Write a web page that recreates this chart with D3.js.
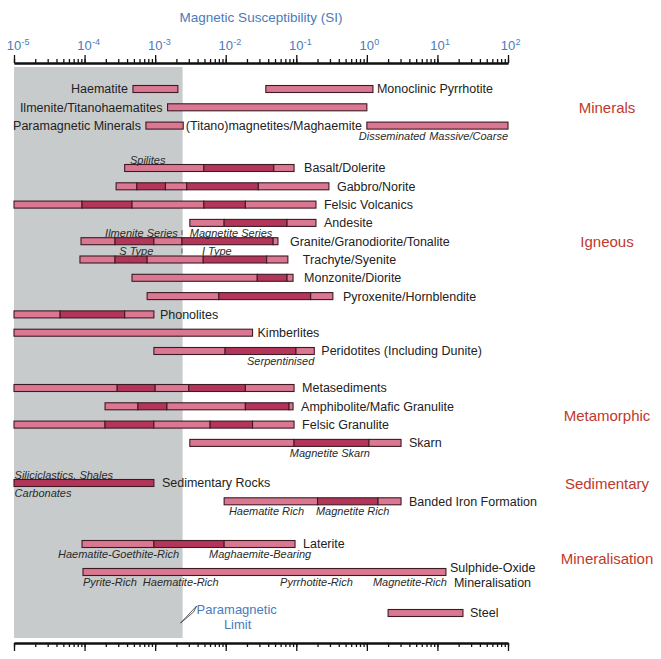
<!DOCTYPE html>
<html>
<head>
<meta charset="utf-8">
<script src="https://cdnjs.cloudflare.com/ajax/libs/d3/7.8.5/d3.min.js"></script>
<style>
  body { margin: 0; background: #fff; }
  text { font-family: "Liberation Sans", Arial, Helvetica, sans-serif; }
</style>
</head>
<body>
<script>
// rows, top to bottom
var rows = ["Haematite", "Ilmenite/Titanohaematites", "Paramagnetic Minerals",
  "Basalt/Dolerite", "Gabbro/Norite", "Felsic Volcanics", "Andesite",
  "Granite/Granodiorite/Tonalite", "Trachyte/Syenite", "Monzonite/Diorite",
  "Pyroxenite/Hornblendite", "Phonolites", "Kimberlites", "Peridotites (Including Dunite)",
  "Metasediments", "Amphibolite/Mafic Granulite", "Felsic Granulite", "Skarn",
  "Sedimentary Rocks", "Banded Iron Formation",
  "Laterite", "Sulphide-Oxide Mineralisation", "Steel"];

// susceptibility ranges (SI); breaks split the bar, L = light, D = dark
var bars = [
  {row: "Haematite", label: "Haematite", side: "left", breaks: [4.85e-4, 2.1e-3], shades: "L"},
  {row: "Haematite", label: "Monoclinic Pyrrhotite", side: "right", breaks: [3.7e-2, 1.22], shades: "L"},
  {row: "Ilmenite/Titanohaematites", label: "Ilmenite/Titanohaematites", side: "left", breaks: [1.5e-3, 1.0], shades: "L"},
  {row: "Paramagnetic Minerals", label: "Paramagnetic Minerals", side: "left", breaks: [7.4e-4, 2.5e-3], shades: "L"},
  {row: "Paramagnetic Minerals", label: "(Titano)magnetites/Maghaemite", side: "left", breaks: [1.0, 100], shades: "L"},
  {row: "Basalt/Dolerite", label: "Basalt/Dolerite", side: "right", breaks: [3.7e-4, 4.9e-3, 0.048, 0.093], shades: "LDL"},
  {row: "Gabbro/Norite", label: "Gabbro/Norite", side: "right", breaks: [2.8e-4, 5.5e-4, 1.4e-3, 2.8e-3, 0.029, 0.29], shades: "LDLDL"},
  {row: "Felsic Volcanics", label: "Felsic Volcanics", side: "right", breaks: [1e-5, 9.2e-5, 4.7e-4, 4.9e-3, 0.019, 0.19], shades: "LDLDL"},
  {row: "Andesite", label: "Andesite", side: "right", breaks: [3.1e-3, 9.5e-3, 0.074, 0.19], shades: "LDL"},
  {row: "Granite/Granodiorite/Tonalite", label: "Granite/Granodiorite/Tonalite", side: "right", breaks: [8.9e-5, 2.7e-4, 9.6e-4, 2.4e-3, 0.047, 0.055], shades: "LDLDL"},
  {row: "Trachyte/Syenite", label: "Trachyte/Syenite", side: "right", breaks: [8.6e-5, 2.7e-4, 7.7e-4, 4.8e-3, 0.038, 0.076], shades: "LDLDL"},
  {row: "Monzonite/Diorite", label: "Monzonite/Diorite", side: "right", breaks: [4.7e-4, 0.028, 0.074, 0.09], shades: "LDL"},
  {row: "Pyroxenite/Hornblendite", label: "Pyroxenite/Hornblendite", side: "right", breaks: [7.7e-4, 8e-3, 0.16, 0.33], shades: "LDL"},
  {row: "Phonolites", label: "Phonolites", side: "right", breaks: [1e-5, 4.5e-5, 3.7e-4, 9.6e-4], shades: "LDL"},
  {row: "Kimberlites", label: "Kimberlites", side: "right", breaks: [1e-5, 0.024], shades: "L"},
  {row: "Peridotites (Including Dunite)", label: "Peridotites (Including Dunite)", side: "right", breaks: [9.6e-4, 9.8e-3, 0.099, 0.18], shades: "LDL"},
  {row: "Metasediments", label: "Metasediments", side: "right", breaks: [1e-5, 2.9e-4, 1e-3, 3e-3, 0.019, 0.093], shades: "LDLDL"},
  {row: "Amphibolite/Mafic Granulite", label: "Amphibolite/Mafic Granulite", side: "right", breaks: [1.95e-4, 5.7e-4, 1.47e-3, 0.019, 0.079, 0.09], shades: "LDLDL"},
  {row: "Felsic Granulite", label: "Felsic Granulite", side: "right", breaks: [1e-5, 1.95e-4, 9.6e-4, 6e-3, 0.024, 0.093], shades: "LDLDL"},
  {row: "Skarn", label: "Skarn", side: "right", breaks: [3.1e-3, 0.093, 1.07, 3.05], shades: "LDL"},
  {row: "Sedimentary Rocks", label: "Sedimentary Rocks", side: "right", breaks: [1e-5, 9.6e-4], shades: "D"},
  {row: "Banded Iron Formation", label: "Banded Iron Formation", side: "right", breaks: [9.5e-3, 0.2, 1.44, 3.05], shades: "LDL"},
  {row: "Laterite", label: "Laterite", side: "right", breaks: [9.2e-5, 9.6e-4, 9.5e-3, 0.096], shades: "LDL"},
  {row: "Sulphide-Oxide Mineralisation", label: "Sulphide-Oxide\nMineralisation", side: "right", breaks: [9.5e-5, 13.2], shades: "L"},
  {row: "Steel", label: "Steel", side: "right", breaks: [2.0, 23], shades: "L"}
];

// italic notes on the bars
var notes = [
  {row: "Paramagnetic Minerals", text: "Disseminated", at: 0.77, pos: "below", anchor: "start"},
  {row: "Paramagnetic Minerals", text: "Massive/Coarse", at: 100, pos: "below", anchor: "end"},
  {row: "Basalt/Dolerite", text: "Spilites", at: 4.4e-4, pos: "above", anchor: "start"},
  {row: "Granite/Granodiorite/Tonalite", text: "Ilmenite Series", at: 2.1e-3, pos: "above", anchor: "end"},
  {row: "Granite/Granodiorite/Tonalite", text: "Magnetite Series", at: 3.1e-3, pos: "above", anchor: "start"},
  {row: "Trachyte/Syenite", text: "S Type", at: 3.1e-4, pos: "above", anchor: "start"},
  {row: "Trachyte/Syenite", text: "I Type", at: 4.6e-3, pos: "above", anchor: "start"},
  {row: "Peridotites (Including Dunite)", text: "Serpentinised", at: 0.18, pos: "below", anchor: "end"},
  {row: "Skarn", text: "Magnetite Skarn", at: 0.081, pos: "below", anchor: "start"},
  {row: "Sedimentary Rocks", text: "Siliciclastics, Shales", at: 1.02e-5, pos: "above", anchor: "start"},
  {row: "Sedimentary Rocks", text: "Carbonates", at: 1.02e-5, pos: "below", anchor: "start"},
  {row: "Banded Iron Formation", text: "Haematite Rich", at: 0.0111, pos: "below", anchor: "start"},
  {row: "Banded Iron Formation", text: "Magnetite Rich", at: 0.19, pos: "below", anchor: "start"},
  {row: "Laterite", text: "Haematite-Goethite-Rich", at: 4.2e-5, pos: "below", anchor: "start"},
  {row: "Laterite", text: "Maghaemite-Bearing", at: 5.8e-3, pos: "below", anchor: "start"},
  {row: "Sulphide-Oxide Mineralisation", text: "Pyrite-Rich", at: 9.5e-5, pos: "below", anchor: "start"},
  {row: "Sulphide-Oxide Mineralisation", text: "Haematite-Rich", at: 6.7e-4, pos: "below", anchor: "start"},
  {row: "Sulphide-Oxide Mineralisation", text: "Pyrrhotite-Rich", at: 0.059, pos: "below", anchor: "start"},
  {row: "Sulphide-Oxide Mineralisation", text: "Magnetite-Rich", at: 1.22, pos: "below", anchor: "start"}
];

// series splits marked above granite and trachyte bars
var splitMarks = [{row: "Granite/Granodiorite/Tonalite", at: 2.4e-3}, {row: "Trachyte/Syenite", at: 2.4e-3}];

var groups = [
  {name: "Minerals", rows: ["Ilmenite/Titanohaematites"]},
  {name: "Igneous", rows: ["Granite/Granodiorite/Tonalite"]},
  {name: "Metamorphic", rows: ["Amphibolite/Mafic Granulite", "Felsic Granulite"]},
  {name: "Sedimentary", rows: ["Sedimentary Rocks"]},
  {name: "Mineralisation", rows: ["Laterite", "Sulphide-Oxide Mineralisation"]}
];

var paraLimit = 2.45e-3;
var decades = [1e-5, 1e-4, 1e-3, 1e-2, 1e-1, 1, 10, 100];
var exponents = ["-5", "-4", "-3", "-2", "-1", "0", "1", "2"];

var svgWidth = 661, svgHeight = 659;
var light = "#d97890", dark = "#b3365a", edge = "#3e1a26";
var blue = "#4a7bbb", red = "#c0392b";
var barH = 7;

var svg = d3.select("body").append("svg")
  .attr("width", svgWidth)
  .attr("height", svgHeight);

var x = d3.scaleLog().domain([1e-5, 100]).range([14, 508]);

// row positions with gaps between the rock groups
var rowStep = 18.3;
var extraGap = {"Basalt/Dolerite": 24.1, "Metasediments": 18.7, "Sedimentary Rocks": 21.8,
  "Laterite": 24.4, "Sulphide-Oxide Mineralisation": 9.7, "Steel": 22.7};
var acc = 89 - rowStep, ys = [];
rows.forEach(function(r) {
  acc += rowStep + (extraGap[r] || 0);
  ys.push(acc);
});
var y = d3.scaleOrdinal().domain(rows).range(ys);

var axisTop = 63, axisBottom = 643;

// paramagnetic zone
svg.append("rect")
  .attr("x", x(1e-5))
  .attr("y", 67)
  .attr("width", x(paraLimit) - x(1e-5))
  .attr("height", 638 - 67)
  .attr("fill", "#c8cbcc");

// axes
function drawAxis(axisFn, yPos) {
  var g1 = svg.append("g").attr("transform", "translate(0," + yPos + ")")
    .call(axisFn(x).tickValues(x.ticks()).tickSize(4).tickSizeOuter(0).tickFormat(""));
  var g2 = svg.append("g").attr("transform", "translate(0," + yPos + ")")
    .call(axisFn(x).tickValues(decades).tickSize(8).tickSizeOuter(0).tickFormat(""));
  [g1, g2].forEach(function(g) {
    g.select(".domain").attr("stroke", "#111").attr("stroke-width", 2);
    g.selectAll(".tick line").attr("stroke", "#111").attr("stroke-width", 1.3);
  });
}
drawAxis(d3.axisTop, axisTop);
drawAxis(d3.axisBottom, axisBottom);

// tick labels 10^n
var lab = svg.append("g").selectAll("g").data(decades).enter().append("g");
lab.append("text")
  .attr("x", function(d) { return x(d); })
  .attr("y", 50)
  .attr("text-anchor", "middle")
  .attr("font-size", "13px")
  .attr("fill", blue)
  .text("10");
lab.append("text")
  .attr("x", function(d) { return x(d) + 7.5; })
  .attr("y", 44.5)
  .attr("font-size", "9px")
  .attr("fill", blue)
  .text(function(d, i) { return exponents[i]; });

svg.append("text")
  .attr("x", (x(1e-5) + x(100)) / 2)
  .attr("y", 22)
  .attr("text-anchor", "middle")
  .attr("font-size", "13.5px")
  .attr("fill", blue)
  .text("Magnetic Susceptibility (SI)");

// bars
var labelGap = {"Monoclinic Pyrrhotite": 4, "Basalt/Dolerite": 10, "Granite/Granodiorite/Tonalite": 12,
  "Trachyte/Syenite": 15, "Monzonite/Diorite": 11, "Pyroxenite/Hornblendite": 10,
  "Kimberlites": 5, "Phonolites": 6, "Peridotites (Including Dunite)": 7,
  "Sulphide-Oxide\nMineralisation": 4, "Steel": 7};

bars.forEach(function(b) {
  var segs = d3.pairs(b.breaks).map(function(p, i) {
    return {x0: p[0], x1: p[1], shade: b.shades[i]};
  });
  var yc = y(b.row);
  svg.append("g").selectAll("rect").data(segs).enter().append("rect")
    .attr("x", function(d) { return x(d.x0); })
    .attr("width", function(d) { return x(d.x1) - x(d.x0); })
    .attr("y", yc - barH / 2)
    .attr("height", barH)
    .attr("fill", function(d) { return d.shade === "D" ? dark : light; })
    .attr("stroke", edge)
    .attr("stroke-width", 1.1);

  var lines = b.label.split("\n");
  var t = svg.append("text")
    .attr("font-size", "12.5px")
    .attr("fill", "#222");
  if (b.side === "left") {
    t.attr("x", x(b.breaks[0]) - 5).attr("text-anchor", "end");
  } else {
    t.attr("x", x(b.breaks[b.breaks.length - 1]) + (labelGap[b.label] || 8));
  }
  var tx = +t.attr("x");
  if (lines.length === 1) {
    t.attr("y", yc + 4.4).text(b.label);
  } else {
    t.attr("y", yc + 0.4);
    t.selectAll("tspan").data(lines).enter().append("tspan")
      .attr("x", function(d, i) { return tx + i * 4; })
      .attr("dy", function(d, i) { return i === 0 ? 0 : 15; })
      .text(function(d) { return d; });
  }
});

// italic notes
svg.append("g").selectAll("text").data(notes).enter().append("text")
  .attr("x", function(d) { return x(d.at); })
  .attr("y", function(d) { return d.pos === "above" ? y(d.row) - 4.5 : y(d.row) + 14; })
  .attr("text-anchor", function(d) { return d.anchor; })
  .attr("font-size", "11px")
  .attr("font-style", "italic")
  .attr("fill", "#2a2a2a")
  .text(function(d) { return d.text; });

svg.append("g").selectAll("line").data(splitMarks).enter().append("line")
  .attr("x1", function(d) { return x(d.at); })
  .attr("x2", function(d) { return x(d.at); })
  .attr("y1", function(d) { return y(d.row) - 11; })
  .attr("y2", function(d) { return y(d.row) - 6; })
  .attr("stroke", "#333")
  .attr("stroke-width", 0.8);

// group labels
svg.append("g").selectAll("text").data(groups).enter().append("text")
  .attr("x", 607)
  .attr("y", function(d) { return d3.mean(d.rows, function(r) { return y(r); }) + 5.5; })
  .attr("text-anchor", "middle")
  .attr("font-size", "15px")
  .attr("fill", red)
  .text(function(d) { return d.name; });

// paramagnetic limit note
var px = x(paraLimit);
svg.append("path")
  .attr("d", "M" + (px - 2) + "," + 623 + " L" + (px + 14) + "," + 606 + " L" + (px + 11) + "," + 612 + " Z")
  .attr("fill", "#fff")
  .attr("stroke", "#333")
  .attr("stroke-width", 0.8);
svg.append("text")
  .attr("x", px + 14)
  .attr("y", 614)
  .attr("font-size", "13px")
  .attr("fill", blue)
  .text("Paramagnetic");
svg.append("text")
  .attr("x", px + 55)
  .attr("y", 629)
  .attr("text-anchor", "middle")
  .attr("font-size", "13px")
  .attr("fill", blue)
  .text("Limit");
</script>
</body>
</html>
